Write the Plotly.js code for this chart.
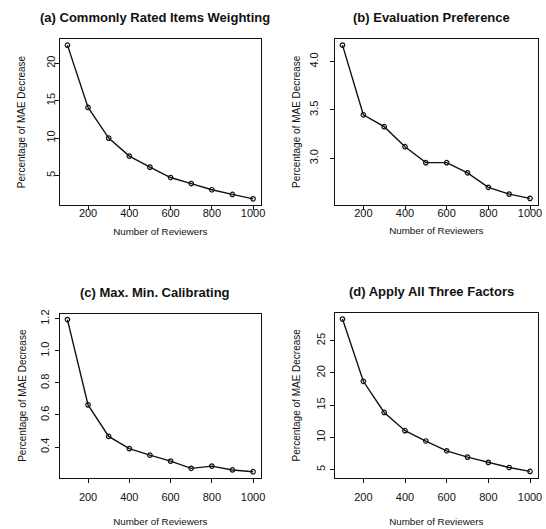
<!DOCTYPE html>
<html>
<head>
<meta charset="utf-8">
<script src="https://cdn.plot.ly/plotly-3.0.1.min.js"></script>
<style>
html,body{margin:0;padding:0;background:#fff;}
#chart{width:546px;height:529px;}
</style>
</head>
<body>
<div id="chart"></div>
<script>
// Data
const reviewers = [100, 200, 300, 400, 500, 600, 700, 800, 900, 1000];
const commonlyRatedWeighting = [22.43, 14.1, 10.0, 7.6, 6.12, 4.73, 3.92, 3.1, 2.47, 1.88];
const evaluationPreference = [4.17, 3.45, 3.327, 3.12, 2.955, 2.955, 2.85, 2.70, 2.63, 2.586];
const maxMinCalibrating = [1.195, 0.663, 0.466, 0.39, 0.349, 0.312, 0.267, 0.281, 0.257, 0.246];
const allThreeFactors = [28.36, 18.7, 13.86, 11.03, 9.42, 7.9, 6.92, 6.1, 5.3, 4.7];

const panelTitles = [
  "(a) Commonly Rated Items Weighting",
  "(b) Evaluation Preference",
  "(c) Max. Min. Calibrating",
  "(d) Apply All Three Factors"
];
const xTickVals = [200, 400, 600, 800, 1000];
const yTickVals = [
  [5, 10, 15, 20],
  [3.0, 3.5, 4.0],
  [0.4, 0.6, 0.8, 1.0, 1.2],
  [5, 10, 15, 20, 25]
];
const yTickFormats = ["d", ".1f", ".1f", "d"];
const xLabel = "Number of Reviewers";
const yLabel = "Percentage of MAE Decrease";

const series = [commonlyRatedWeighting, evaluationPreference, maxMinCalibrating, allThreeFactors];

const W = 546, H = 529;
// panel geometry (pixels) and per-panel label offsets
const boxes = [
  {l: 60, r: 260.5, t: 39, b: 205, xls: -6, xts: 9, yls: -4, yts: 17},
  {l: 335, r: 537.5, t: 39, b: 204.5, xls: -6, xts: 9, yls: 8, yts: 5},
  {l: 60, r: 260.5, t: 313.5, b: 477.8, xls: 5, xts: 16, yls: 2, yts: 10},
  {l: 335, r: 537.5, t: 313, b: 477.5, xls: 5, xts: 16, yls: 1, yts: 12}
];

function extRange(arr) {
  const mn = Math.min(...arr), mx = Math.max(...arr);
  const d = (mx - mn) * 0.04;
  return [mn - d, mx + d];
}

const font = "Liberation Sans, Arial, sans-serif";
const ink = "#111";
const data = [];
const layout = {
  width: W, height: H,
  margin: {l: 0, r: 0, t: 0, b: 0},
  paper_bgcolor: "#fff", plot_bgcolor: "#fff",
  showlegend: false,
  font: {family: font, color: ink},
  annotations: []
};

series.forEach((ys, i) => {
  const n = i + 1;
  const sx = n === 1 ? "" : n;
  data.push({
    x: reviewers, y: ys,
    xaxis: "x" + sx, yaxis: "y" + sx,
    type: "scatter", mode: "lines+markers",
    line: {color: ink, width: 1.4},
    marker: {symbol: "circle-open", size: 4.5, color: ink, line: {width: 1.2, color: ink}},
    hoverinfo: "x+y"
  });
  const bx = boxes[i];
  const common = {
    showgrid: false, zeroline: false,
    showline: true, mirror: true, linecolor: ink, linewidth: 1,
    ticks: "outside", ticklen: 4, tickwidth: 1, tickcolor: ink,
    tickfont: {size: 11, family: font, color: ink}
  };
  layout["xaxis" + sx] = Object.assign({}, common, {
    domain: [bx.l / W, bx.r / W],
    anchor: "y" + sx,
    range: extRange(reviewers),
    tickvals: xTickVals,
    ticktext: xTickVals.map(String),
    ticklabelstandoff: bx.xls,
    title: {text: xLabel, font: {size: 9.8, family: font, color: ink}, standoff: bx.xts}
  });
  layout["yaxis" + sx] = Object.assign({}, common, {
    domain: [1 - bx.b / H, 1 - bx.t / H],
    anchor: "x" + sx,
    range: extRange(ys),
    tickvals: yTickVals[i],
    tickformat: yTickFormats[i],
    tickangle: -90,
    ticklabelstandoff: bx.yls,
    title: {text: yLabel, font: {size: 10, family: font, color: ink}, standoff: bx.yts}
  });
  layout.annotations.push({
    text: "<b>" + panelTitles[i] + "</b>",
    xref: "paper", yref: "paper",
    x: (bx.l + bx.r) / 2 / W - 0.009, y: 1 - (bx.t - 21.5) / H,
    xanchor: "center", yanchor: "middle",
    showarrow: false,
    font: {size: 13, family: font, color: ink}
  });
});

Plotly.newPlot("chart", data, layout, {displayModeBar: false, staticPlot: true});
</script>
</body>
</html>
